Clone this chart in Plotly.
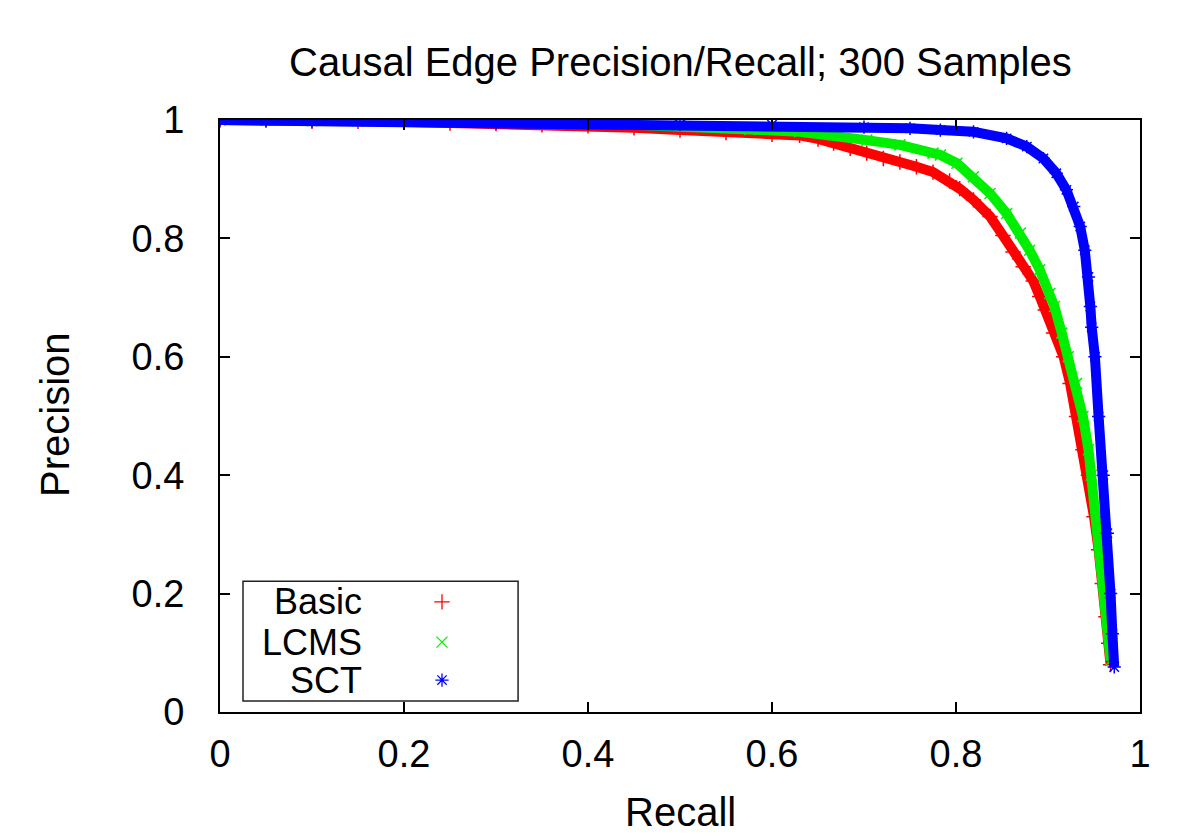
import plotly.graph_objects as go

# ---- data ----
basic_recall = [0.0, 0.05, 0.10, 0.15, 0.20, 0.25, 0.30, 0.35, 0.40, 0.45, 0.50, 0.55, 0.60, 0.63,
                0.65, 0.667, 0.685, 0.703, 0.721, 0.739, 0.757, 0.775, 0.793, 0.804, 0.819, 0.837,
                0.851, 0.862, 0.873, 0.884, 0.891, 0.897, 0.906, 0.917, 0.924, 0.931, 0.938, 0.944,
                0.950, 0.955, 0.959, 0.963, 0.966, 0.968]
basic_precision = [1.0, 1.0, 0.998, 0.998, 0.997, 0.995, 0.994, 0.992, 0.990, 0.987, 0.983, 0.979, 0.976, 0.974,
                   0.968, 0.961, 0.952, 0.944, 0.935, 0.929, 0.921, 0.912, 0.897, 0.884, 0.865, 0.837,
                   0.805, 0.777, 0.752, 0.728, 0.702, 0.679, 0.640, 0.600, 0.555, 0.499, 0.443, 0.400,
                   0.330, 0.274, 0.217, 0.161, 0.116, 0.080]

lcms_recall = [0.0, 0.05, 0.10, 0.15, 0.20, 0.25, 0.30, 0.35, 0.40, 0.45, 0.50, 0.55, 0.576, 0.630,
               0.667, 0.703, 0.739, 0.775, 0.783, 0.801, 0.819, 0.837, 0.855, 0.870, 0.880, 0.891,
               0.902, 0.907, 0.915, 0.922, 0.931, 0.938, 0.944, 0.947, 0.953, 0.956, 0.962, 0.966, 0.968]
lcms_precision = [1.0, 1.0, 0.999, 0.998, 0.998, 0.997, 0.997, 0.996, 0.995, 0.993, 0.991, 0.987, 0.984, 0.980,
                  0.975, 0.966, 0.958, 0.944, 0.941, 0.927, 0.904, 0.876, 0.842, 0.809, 0.780, 0.747,
                  0.707, 0.685, 0.640, 0.600, 0.555, 0.499, 0.443, 0.400, 0.330, 0.274, 0.200, 0.132, 0.087]

sct_recall = [0.0, 0.05, 0.10, 0.20, 0.30, 0.40, 0.50, 0.60, 0.70, 0.75, 0.783, 0.819, 0.855, 0.877,
              0.895, 0.909, 0.920, 0.928, 0.935, 0.940, 0.944, 0.946, 0.9475, 0.951, 0.955, 0.960,
              0.9645, 0.968, 0.970, 0.972]
sct_precision = [1.0, 0.999, 0.998, 0.997, 0.995, 0.994, 0.993, 0.992, 0.988, 0.986, 0.983, 0.980, 0.969, 0.955,
                 0.935, 0.910, 0.882, 0.854, 0.820, 0.780, 0.735, 0.685, 0.650, 0.600, 0.499, 0.400,
                 0.302, 0.200, 0.132, 0.076]

series_names = ["Basic", "LCMS", "SCT"]
series_colors = ["#ff0000", "#00ee00", "#0000ff"]
series_symbols = ["cross-thin", "x-thin", "asterisk"]
series_data = [(basic_recall, basic_precision), (lcms_recall, lcms_precision), (sct_recall, sct_precision)]

title_text = "Causal Edge Precision/Recall; 300 Samples"
x_title = "Recall"
y_title = "Precision"
tick_vals = [0, 0.2, 0.4, 0.6, 0.8, 1]
tick_text = ["0", "0.2", "0.4", "0.6", "0.8", "1"]

FONT = "Liberation Sans, Arial, Helvetica, sans-serif"
FS_TICK = 38
FS_TEXT = 40
FS_LEG = 36

fig = go.Figure()

for name, color, sym, (rx, py) in zip(series_names, series_colors, series_symbols, series_data):
    fig.add_trace(go.Scatter(x=rx, y=py, mode="lines", line=dict(color=color, width=10),
                             showlegend=False, hoverinfo="skip"))
    fig.add_trace(go.Scatter(x=rx, y=py, mode="markers", name=name,
                             marker=dict(symbol=sym, size=11, color=color,
                                         line=dict(color=color, width=1.5)),
                             showlegend=False))

# manual legend (gnuplot style: text on the left, sample on the right)
leg_rows = [0.186, 0.118, 0.054]
for name, color, sym, yy in zip(series_names, series_colors, series_symbols, leg_rows):
    fig.add_trace(go.Scatter(x=[0.2413], y=[yy], mode="markers", xaxis="x2", yaxis="y2",
                             marker=dict(symbol=sym, size=11, color=color,
                                         line=dict(color=color, width=1.3)),
                             showlegend=False, hoverinfo="skip"))
    fig.add_annotation(x=0.1554, y=yy, xref="paper", yref="paper", text=name,
                       showarrow=False, xanchor="right", yanchor="middle", borderpad=0,
                       font=dict(family=FONT, size=FS_LEG, color="black"))

fig.add_shape(type="rect", xref="paper", yref="paper", x0=0.025, x1=0.324, y0=0.0186, y1=0.221,
              line=dict(color="#222222", width=1.5), fillcolor="rgba(0,0,0,0)")

axis_common = dict(range=[0, 1], tickvals=tick_vals, ticktext=tick_text, showgrid=False,
                   zeroline=False, showline=True, linecolor="black", linewidth=2,
                   mirror="ticks", ticks="inside", ticklen=10, tickwidth=1.5, tickcolor="black",
                   tickfont=dict(family=FONT, size=FS_TICK, color="black"))

# page body has an 8px margin, so offsets compensate to place the plot at 220..1140 x 120..712
fig.update_layout(
    width=1200, height=840,
    margin=dict(l=212, r=68, t=112, b=136),
    paper_bgcolor="white", plot_bgcolor="white",
    xaxis=dict(**axis_common, ticklabelstandoff=7),
    yaxis=dict(**axis_common, ticklabelstandoff=26),
    xaxis2=dict(range=[0, 1], overlaying="x", visible=False),
    yaxis2=dict(range=[0, 1], overlaying="y", visible=False),
    showlegend=False,
)

fig.add_annotation(x=0.5, y=(712 - 62) / 592, xref="paper", yref="paper", text=title_text,
                   showarrow=False, yanchor="middle",
                   font=dict(family=FONT, size=FS_TEXT, color="black"))
fig.add_annotation(x=0.5, y=(712 - 812) / 592, xref="paper", yref="paper", text=x_title,
                   showarrow=False, yanchor="middle", font=dict(family=FONT, size=FS_TEXT, color="black"))
fig.add_annotation(x=(55 - 220) / 920, y=(712 - 415) / 592, xref="paper", yref="paper", text=y_title,
                   showarrow=False, textangle=-90, xanchor="center", yanchor="middle",
                   font=dict(family=FONT, size=FS_TEXT, color="black"))

fig.write_html("out.html")
